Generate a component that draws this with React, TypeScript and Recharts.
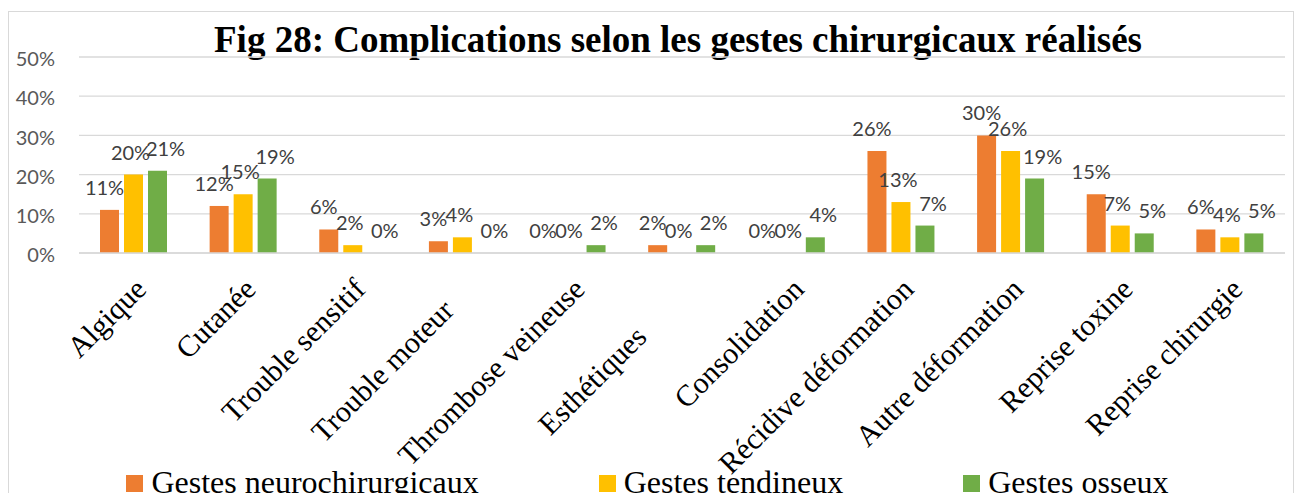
import { BarChart, Bar, XAxis, YAxis, CartesianGrid, Legend, LabelList } from 'recharts';

const NB = '\u00A0';

// trailing spaces as in the source sheet (they push those two labels down the diagonal)
const categories = [
  'Algique',
  'Cutanée',
  'Trouble sensitif',
  'Trouble moteur' + NB.repeat(4),
  'Thrombose veineuse',
  'Esthétiques' + NB.repeat(9),
  'Consolidation',
  'Récidive déformation',
  'Autre déformation',
  'Reprise toxine',
  'Reprise chirurgie',
];

const neuro = [11, 12, 6, 3, 0, 2, 0, 26, 30, 15, 6];
const tendineux = [20, 15, 2, 4, 0, 0, 0, 13, 26, 7, 4];
const osseux = [21, 19, 0, 0, 2, 2, 4, 7, 19, 5, 5];

const yTicks = [0, 10, 20, 30, 40, 50];

// labelDx: Excel nudged the value labels a little sideways per series
const series = [
  { key: 'neuro', name: 'Gestes neurochirurgicaux', color: '#ED7D31', labelDx: -5 },
  { key: 'tendineux', name: 'Gestes tendineux', color: '#FFC000', labelDx: -3 },
  { key: 'osseux', name: 'Gestes osseux', color: '#70AD47', labelDx: 8 },
];

const data = categories.map((name, i) => ({
  name,
  neuro: neuro[i],
  tendineux: tendineux[i],
  osseux: osseux[i],
}));

const serif = "'Liberation Serif', 'Times New Roman', serif";
const sans = "Lato, 'Open Sans', sans-serif";

function CategoryTick({ x, y, payload }: any) {
  return (
    <g transform={`translate(${x + 14},${y + 38})`}>
      <text transform="rotate(-45)" textAnchor="end" fontFamily={serif} fontSize={30} fill="#000">
        {payload.value}
      </text>
    </g>
  );
}

const makeLabel = (dx: number) => (p: any) => {
  if (p.value == null) return null;
  return (
    <text
      x={p.x + p.width / 2 + dx}
      y={Math.min(p.y, p.y + p.height) - 15}
      textAnchor="middle"
      fill="#404040"
      fontSize={20}
      fontFamily={sans}
    >
      {`${p.value}%`}
    </text>
  );
};

const renderLegend = () => (
  <div
    style={{
      display: 'flex',
      justifyContent: 'center',
      gap: 120,
      height: 40,
      paddingTop: 13,
      paddingLeft: 10,
      boxSizing: 'border-box',
      fontFamily: serif,
      fontSize: 32,
      lineHeight: '32px',
      color: '#000',
      whiteSpace: 'nowrap',
    }}
  >
    {series.map((s) => (
      <div key={s.key} style={{ display: 'flex', alignItems: 'flex-start' }}>
        <div style={{ width: 17, height: 17, marginTop: 9, marginRight: 8, background: s.color }} />
        <span>{s.name}</span>
      </div>
    ))}
  </div>
);

export default function App() {
  return (
    <div
      style={{
        position: 'absolute',
        left: 0,
        top: 0,
        width: 1298,
        height: 493,
        overflow: 'hidden',
        background: '#fff',
      }}
    >
      <div
        style={{
          position: 'absolute',
          left: 8,
          top: 11,
          width: 1284,
          height: 520,
          border: '1px solid #d9d9d9',
        }}
      />
      <div
        style={{
          position: 'absolute',
          left: 58,
          top: 21,
          width: 1240,
          textAlign: 'center',
          fontFamily: serif,
          fontWeight: 'bold',
          fontSize: 37,
          lineHeight: '37px',
          whiteSpace: 'nowrap',
          color: '#000',
        }}
      >
        Fig 28: Complications selon les gestes chirurgicaux réalisés
      </div>
      <div style={{ position: 'absolute', left: 0, top: 0 }}>
        <BarChart
          width={1298}
          height={493}
          data={data}
          margin={{ top: 57, right: 13, bottom: 0, left: 0 }}
          barSize={19}
          barGap={5}
        >
          <CartesianGrid vertical={false} stroke="#d9d9d9" strokeWidth={1.3} />
          <XAxis
            dataKey="name"
            height={200}
            interval={0}
            tickLine={false}
            tickSize={0}
            tickMargin={0}
            axisLine={{ stroke: '#d9d9d9', strokeWidth: 1.3 }}
            tick={<CategoryTick />}
          />
          <YAxis
            width={79}
            domain={[0, 50]}
            ticks={yTicks}
            tickFormatter={(v: number) => `${v}%`}
            axisLine={false}
            tickLine={false}
            tickSize={0}
            tickMargin={24}
            tick={{ fill: '#595959', fontSize: 20, fontFamily: sans, dy: 2 }}
          />
          <Legend verticalAlign="bottom" content={renderLegend} />
          {series.map((s) => (
            <Bar
              key={s.key}
              dataKey={s.key}
              name={s.name}
              fill={s.color}
              minPointSize={(v: number) => (v === 0 ? 0.01 : 0)}
              isAnimationActive={false}
            >
              <LabelList dataKey={s.key} content={makeLabel(s.labelDx)} />
            </Bar>
          ))}
        </BarChart>
      </div>
    </div>
  );
}
